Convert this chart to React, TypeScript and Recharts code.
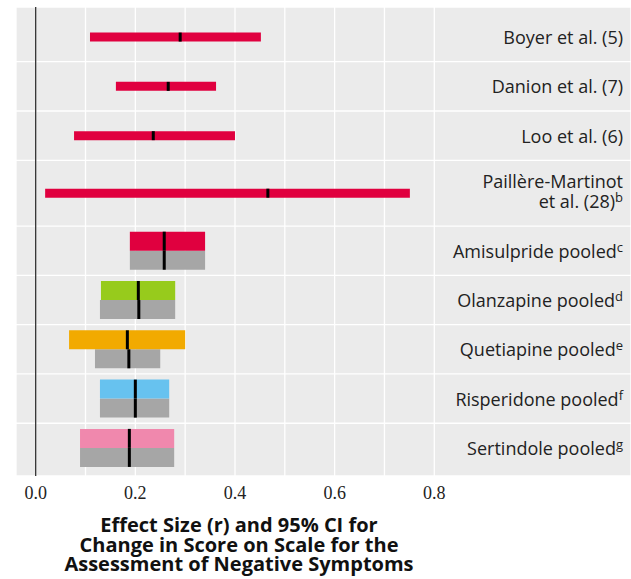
import {
  ScatterChart,
  Scatter,
  XAxis,
  YAxis,
  CartesianGrid,
  ReferenceLine,
  ErrorBar,
} from "recharts";

// row labels, top to bottom ("|" = line break)
const rowLabels = [
  "Boyer et al. (5)",
  "Danion et al. (7)",
  "Loo et al. (6)",
  "Paillère-Martinot|et al. (28)",
  "Amisulpride pooled",
  "Olanzapine pooled",
  "Quetiapine pooled",
  "Risperidone pooled",
  "Sertindole pooled",
];
const rowNotes = ["", "", "", "b", "c", "d", "e", "f", "g"];

// single studies (amisulpride)
const studyEst = [0.29, 0.266, 0.236, 0.466];
const studyLow = [0.109, 0.161, 0.077, 0.019];
const studyHigh = [0.452, 0.362, 0.4, 0.751];

// pooled, drug-specific
const drugEst = [0.258, 0.206, 0.184, 0.2, 0.188];
const drugLow = [0.189, 0.131, 0.067, 0.129, 0.089];
const drugHigh = [0.34, 0.28, 0.3, 0.268, 0.278];

// pooled, comparison (gray)
const grayEst = [0.258, 0.207, 0.187, 0.2, 0.188];
const grayLow = [0.189, 0.129, 0.119, 0.129, 0.089];
const grayHigh = [0.34, 0.28, 0.25, 0.268, 0.278];

const xTicks = [0, 0.2, 0.4, 0.6, 0.8];
const gridTicks = [0, 0.1, 0.2, 0.3, 0.4, 0.5, 0.6, 0.7, 0.8];

const RED = "#e0003f";
const drugColors = [RED, "#97cb1c", "#f2aa00", "#67c2ef", "#f088ad"];
const GRAY = "#a6a6a6";

// layout in "row units"
const ROW_SPAN = [1, 1, 1, 4 / 3, 1, 1, 1, 1, 1];
const PAD_TOP = 0.11;
const PAD_BOTTOM = 0.07;
const rowStart = ROW_SPAN.map(
  (_, i) => PAD_TOP + ROW_SPAN.slice(0, i).reduce((a, b) => a + b, 0)
);
const rowMid = rowStart.map((s, i) => s + ROW_SPAN[i] / 2);
const rowEnd = rowStart.map((s, i) => s + ROW_SPAN[i]);
const Y_MAX = rowEnd[rowEnd.length - 1] + PAD_BOTTOM;
const HALF = 0.193;
const FIRST_POOLED = studyEst.length;

const studyData = studyEst.map((x, i) => ({
  x,
  y: rowMid[i],
  err: [x - studyLow[i], studyHigh[i] - x],
}));
const drugData = drugEst.map((x, i) => ({
  x,
  y: rowMid[FIRST_POOLED + i] - HALF,
  err: [x - drugLow[i], drugHigh[i] - x],
}));
const grayData = grayEst.map((x, i) => ({
  x,
  y: rowMid[FIRST_POOLED + i] + HALF,
  err: [x - grayLow[i], grayHigh[i] - x],
}));

const SANS = "'Open Sans', sans-serif";
const SERIF = "'Liberation Serif', serif";

const marker = (h: number) => (p: any) =>
  <rect x={p.cx - 1.5} y={p.cy - h / 2} width={3} height={h} fill="#000" />;

function RowTick(props: any) {
  const { x, y, index } = props;
  const lines = rowLabels[index].split("|");
  const n = lines.length;
  return (
    <g>
      {lines.map((line, i) => (
        <text
          key={i}
          x={x}
          y={y + 7 + (i - (n - 1) / 2) * 19.8 - (n > 1 ? 2 : 0)}
          textAnchor="end"
          fontFamily={SANS}
          fontSize={18}
          fill="#222"
        >
          {line}
          {i === n - 1 && rowNotes[index] ? (
            <tspan fontSize={13} dy={-6}>
              {rowNotes[index]}
            </tspan>
          ) : null}
        </text>
      ))}
    </g>
  );
}

function ValueTick(props: any) {
  const { x, y, payload } = props;
  const v = payload.value as number;
  if (!xTicks.some((t) => Math.abs(t - v) < 1e-9)) return null;
  return (
    <text x={x} y={y + 12.7} textAnchor="middle" fontFamily={SERIF} fontSize={18} fill="#222">
      {v.toFixed(1)}
    </text>
  );
}

const AxisTitle = () => (
  <g fontFamily={SANS} fontWeight={700} fontSize={20} fill="#111" textAnchor="middle">
    <text x={239} y={531.7}>Effect Size (r) and 95% CI for</text>
    <text x={239} y={551.5}>Change in Score on Scale for the</text>
    <text x={239} y={571.2}>Assessment of Negative Symptoms</text>
  </g>
);

export default function App() {
  return (
    <div style={{ position: "absolute", left: 0, top: 0 }}>
      <ScatterChart
        width={631}
        height={579}
        margin={{ top: 7, right: 0, left: 16, bottom: 0 }}
      >
        <CartesianGrid fill="#ebebeb" stroke="#ffffff" strokeWidth={1.3} />
        <XAxis
          type="number"
          dataKey="x"
          domain={[-0.0395, 1.1948]}
          allowDataOverflow
          ticks={gridTicks}
          interval={0}
          axisLine={false}
          tickLine={false}
          tickSize={0}
          tickMargin={10}
          height={103}
          tick={<ValueTick />}
          label={{ content: () => <AxisTitle /> }}
        />
        <YAxis
          type="number"
          dataKey="y"
          hide
          reversed
          domain={[0, Y_MAX]}
          allowDataOverflow
          ticks={rowEnd.slice(0, -1)}
          interval={0}
        />
        <YAxis
          yAxisId="lab"
          type="number"
          orientation="right"
          mirror
          reversed
          domain={[0, Y_MAX]}
          allowDataOverflow
          ticks={rowMid}
          interval={0}
          axisLine={false}
          tickLine={false}
          tickSize={0}
          tickMargin={8}
          width={1}
          tick={<RowTick />}
        />
        <ReferenceLine x={0} stroke="#333" strokeWidth={1.3} ifOverflow="visible" />
        <Scatter data={studyData} isAnimationActive={false} shape={marker(9)}>
          <ErrorBar
            dataKey="err"
            direction="x"
            width={0}
            strokeWidth={9}
            stroke={RED}
            isAnimationActive={false}
          />
        </Scatter>
        <Scatter data={grayData} isAnimationActive={false} shape={marker(19)}>
          <ErrorBar
            dataKey="err"
            direction="x"
            width={0}
            strokeWidth={19}
            stroke={GRAY}
            isAnimationActive={false}
          />
        </Scatter>
        {drugData.map((d, i) => (
          <Scatter key={i} data={[d]} isAnimationActive={false} shape={marker(19)}>
            <ErrorBar
              dataKey="err"
              direction="x"
              width={0}
              strokeWidth={19}
              stroke={drugColors[i]}
              isAnimationActive={false}
            />
          </Scatter>
        ))}
      </ScatterChart>
    </div>
  );
}
